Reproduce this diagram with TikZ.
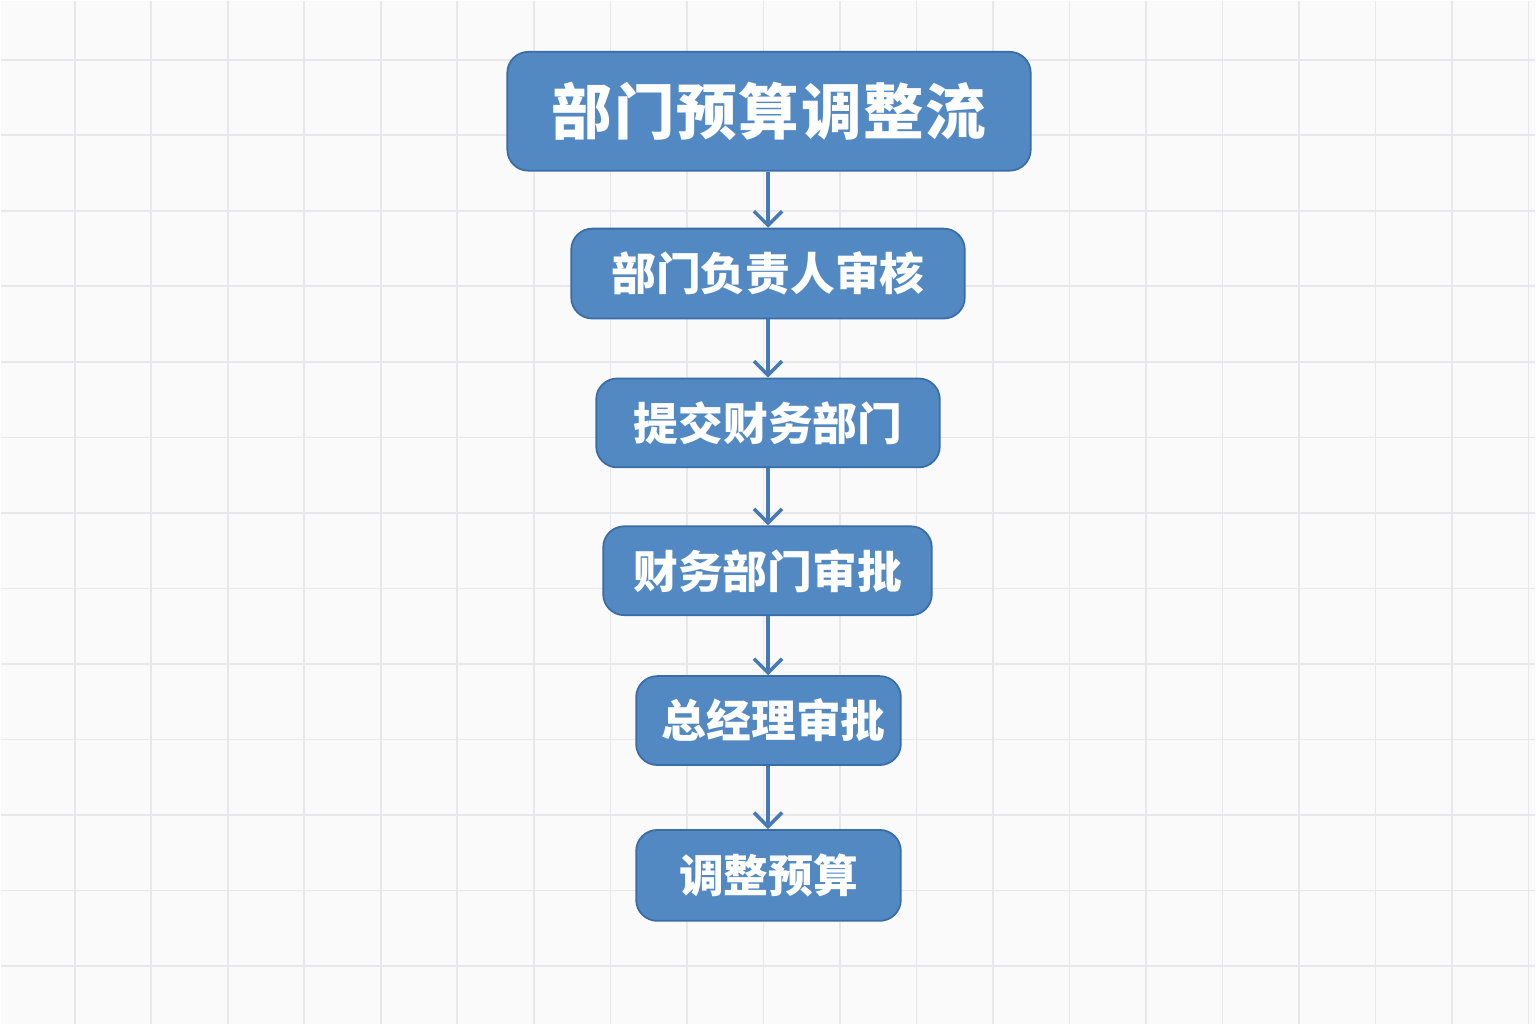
\documentclass[tikz,border=0pt]{standalone}
\usepackage{fontspec}
\setmainfont{Noto Sans CJK SC}
\usepackage{xcolor}
\usetikzlibrary{arrows.meta, positioning}
\definecolor{FlowBlue}{RGB}{82, 137, 195}
\definecolor{FlowEdge}{RGB}{58, 108, 168}
\definecolor{FlowArrow}{RGB}{70, 122, 182}
\definecolor{GridBg}{RGB}{250, 250, 250}
\definecolor{GridLine}{RGB}{232, 232, 234}

\begin{document}
\begin{tikzpicture}[
    x=0.02cm, y=-0.02cm,
    stepbox/.style={
      rounded corners=12pt, fill=FlowBlue, draw=FlowEdge, line width=1pt,
      text=white, align=center, inner sep=0pt,
      font=\fontsize{25.5}{30}\selectfont\bfseries
    },
    flow/.style={draw=FlowArrow, line width=2pt, -{Straight Barb[length=8pt, width=16pt, line width=2pt]}}
  ]
  % background with grid
  \fill[GridBg] (0,0) rectangle (1536,1024);
  \foreach \gx in {0,...,19} {
    \draw[GridLine, line width=1pt] ({74+76.6*\gx},0) -- ({74+76.6*\gx},1024);
  }
  \foreach \gy in {0,...,12} {
    \draw[GridLine, line width=1pt] (0,{59+75.6*\gy}) -- (1536,{59+75.6*\gy});
  }
  \useasboundingbox (0,0) rectangle (1536,1024);

  % boxes
  \node[stepbox, minimum width=524*0.02cm, minimum height=119*0.02cm,
        font=\fontsize{34.5}{40}\selectfont\bfseries\addfontfeature{LetterSpace=3}] (title) at (769,110.5) {部门预算调整流};
  \node[stepbox, minimum width=394*0.02cm, minimum height=90*0.02cm] (lead) at (768,273) {部门负责人审核};
  \node[stepbox, minimum width=344*0.02cm, minimum height=89*0.02cm] (submit) at (768,422.5) {提交财务部门};
  \node[stepbox, minimum width=329*0.02cm, minimum height=89*0.02cm] (finance) at (767.5,570.5) {财务部门审批};
  \node[stepbox, minimum width=265*0.02cm, minimum height=89*0.02cm] (gm) at (768.5,720.5) {\hspace*{6pt}总经理审批};
  \node[stepbox, minimum width=265*0.02cm, minimum height=91*0.02cm] (adjust) at (768.5,875.5) {调整预算};

  % connectors
  \draw[flow] (title.south -| 768,0) -- (lead.north -| 768,0);
  \draw[flow] (lead.south -| 768,0) -- (submit.north -| 768,0);
  \draw[flow] (submit.south -| 768,0) -- (finance.north -| 768,0);
  \draw[flow] (finance.south -| 768,0) -- (gm.north -| 768,0);
  \draw[flow] (gm.south -| 768,0) -- (adjust.north -| 768,0);
\end{tikzpicture}
\end{document}
